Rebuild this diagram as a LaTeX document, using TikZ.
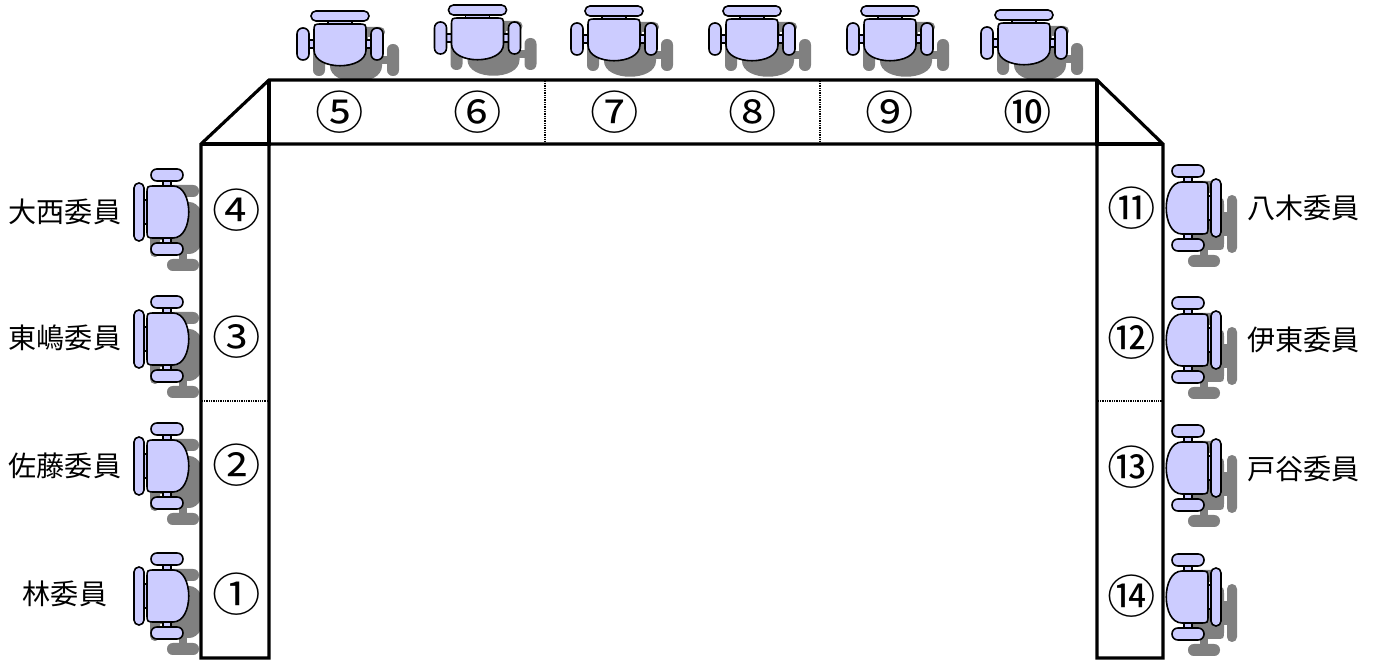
\documentclass[tikz,border=0pt]{standalone}
\usepackage{fontspec}
\usetikzlibrary{calc}
\newfontfamily\jpfont{Noto Sans CJK JP}
\newfontfamily\numfont[FakeStretch=1.06]{Noto Sans CJK JP}
\definecolor{chairblue}{HTML}{CCCCFF}
\definecolor{chairshade}{HTML}{808080}
\tikzset{
	chairpart/.style={draw=black, line width=0.9pt, fill=chairblue},
	shadepart/.style={fill=chairshade},
	tableline/.style={line width=1.8pt, line join=miter},
	seatline/.style={line width=1.6pt, dash pattern=on 0.5pt off 0.5pt},
	member/.style={font=\jpfont\fontsize{16}{16}\selectfont, inner sep=0pt},
	seatno/.style={font=\numfont\fontsize{26}{26}\selectfont, inner sep=0pt},
}
\def\chairshape[#1]{%
	\path[#1] (-5,-31) rectangle (3,-25);
	\path[#1] (-5,25) rectangle (3,31);
	\path[#1] (-25,-12) rectangle (-20,12);
	\path[#1] (-21,-18) .. controls (-21,-26) .. (-13,-26) -- (5,-26) .. controls (26,-26) and (26,26) .. (5,26) -- (-13,26) .. controls (-21,26) .. (-21,18) -- cycle;
	\path[#1, rounded corners=2.8pt] (-34,-29) rectangle (-24,29);
	\path[#1, rounded corners=3.3pt] (-17,-43) rectangle (15,-31);
	\path[#1, rounded corners=3.3pt] (-17,31) rectangle (15,43);
}
\def\chair#1#2#3{%
	\begin{scope}[shift={(#1+16,#2+16)}, rotate=#3] \chairshape[shadepart] \end{scope}
	\begin{scope}[shift={(#1,#2)}, rotate=#3] \chairshape[chairpart] \end{scope}
}

\begin{document}
\begin{tikzpicture}[x=0.2mm, y=-0.2mm]
	%%%%% START %%%%%
	\useasboundingbox (0,0) rectangle (1381,661);
	
	\chair{340}{45}{-90}
	\chair{477.5}{39}{-90}
	\chair{614}{40}{-90}
	\chair{752}{40}{-90}
	\chair{890}{40}{-90}
	\chair{1024}{44}{-90}
	
	\chair{168}{212}{0}
	\chair{168}{339}{0}
	\chair{168}{466}{0}
	\chair{168}{596}{0}
	
	\chair{1187}{208}{180}
	\chair{1187}{340}{180}
	\chair{1187}{468}{180}
	\chair{1187}{597}{180}
	
	\draw[tableline, fill=white] (201,658) -- (201,144) -- (269,80) -- (1097,80) -- (1163,144) -- (1163,658) -- (1097,658) -- (1097,144) -- (269,144) -- (269,658) -- cycle;
	\draw[tableline] (201,144) -- (269,144) -- (269,80);
	\draw[tableline] (1097,80) -- (1097,144) -- (1163,144);
	
	\draw[seatline] (545,81) -- (545,143);
	\draw[seatline] (820,81) -- (820,143);
	\draw[seatline] (202,401) -- (268,401);
	\draw[seatline] (1098,401) -- (1162,401);
	
	\node[seatno] (s1) at (237,594) {①};
	\node[seatno] (s2) at (237,465) {②};
	\node[seatno] (s3) at (237,337) {③};
	\node[seatno] (s4) at (237,210) {④};
	\node[seatno] (s5) at (340,112) {⑤};
	\node[seatno] (s6) at (477.5,112) {⑥};
	\node[seatno] (s7) at (615,112) {⑦};
	\node[seatno] (s8) at (752.5,112) {⑧};
	\node[seatno] (s9) at (890,112) {⑨};
	\node[seatno] (s10) at (1027.5,112) {⑩};
	\node[seatno] (s11) at (1132,208) {⑪};
	\node[seatno] (s12) at (1132,338) {⑫};
	\node[seatno] (s13) at (1132,467) {⑬};
	\node[seatno] (s14) at (1132,596) {⑭};
	
	\node[member] (m1) at (65,594) {林委員};
	\node[member] (m2) at (65,466) {佐藤委員};
	\node[member] (m3) at (65,338) {東嶋委員};
	\node[member] (m4) at (65,212) {大西委員};
	\node[member, anchor=west] (m11) at (1247,208) {八木委員};
	\node[member, anchor=west] (m12) at (1247,340) {伊東委員};
	\node[member, anchor=west] (m13) at (1247,469) {戸谷委員};
	%%%%% END %%%%%
\end{tikzpicture}
\end{document}
